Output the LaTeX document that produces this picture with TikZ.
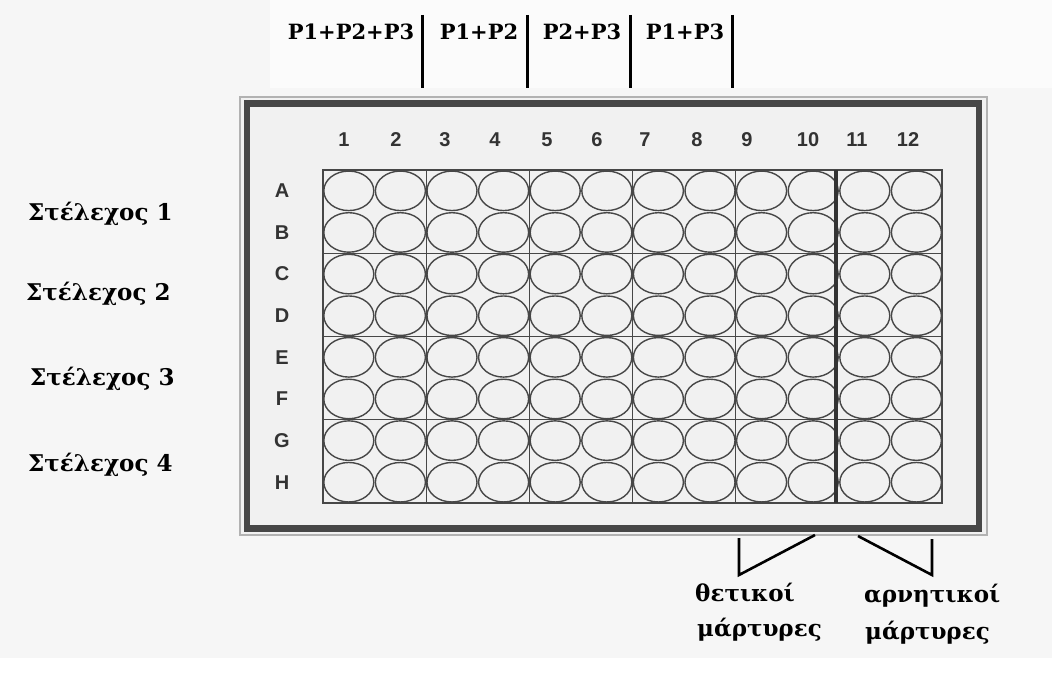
\documentclass[tikz,border=0pt]{standalone}
\usepackage{fontspec}
\setmainfont{DejaVu Serif}
\newfontfamily\platesans{Liberation Sans}
\usetikzlibrary{shapes.geometric}
\definecolor{bggray}{gray}{0.965}
\definecolor{plategray}{gray}{0.945}
\definecolor{wellline}{gray}{0.28}
\definecolor{labgray}{gray}{0.2}
\begin{document}
\begin{tikzpicture}[x=1pt,y=-1pt,
  well/.style={ellipse,draw=wellline,line width=1.4pt,fill=plategray,
    minimum width=50pt,minimum height=39.5pt,inner sep=0pt},
  gridlab/.style={font=\platesans\bfseries\fontsize{20}{20}\selectfont,text=labgray,inner sep=0pt},
  toplab/.style={font=\bfseries\fontsize{21}{21}\selectfont,inner sep=0pt},
  greeklab/.style={font=\bfseries\fontsize{23}{23}\selectfont,inner sep=0pt,anchor=west},
  botlab/.style={font=\bfseries\fontsize{23}{23}\selectfont,inner sep=0pt,anchor=west},
  sepline/.style={line width=3pt,black},
  bracket/.style={line width=2.6pt,black,line join=miter}
]
\useasboundingbox (0,0) rectangle (1052,677);
% background
\fill[bggray] (0,0) rectangle (1052,677);
\fill[white!60!bggray] (270,0) rectangle (1052,88);
\fill[white] (0,658) rectangle (1052,677);
% plate frame
\fill[plategray] (240,97) rectangle (987,535);
\draw[gray!60,line width=1.5pt] (240,97) rectangle (987,535);
\draw[black!72,line width=6.5pt] (247,103.5) rectangle (979,528.5);
% wells
\foreach \r/\L in {1/A,2/B,3/C,4/D,5/E,6/F,7/G,8/H}{
  \foreach \c in {1,...,12}{
    \node[well] (w-\L-\c) at ({323+(\c-0.5)*51.6},{170+(\r-0.5)*41.63}) {};
  }
  \node[gridlab] (row-\L) at (282,{170+(\r-0.5)*41.63}) {\L};
}
% grid lines
\draw[wellline,line width=1.2pt] (323,170) rectangle (942,503);
\foreach \k in {2,4,6,8}{
  \draw[wellline,line width=1pt] ({323+\k*51.6},170) -- ({323+\k*51.6},503);
}
\foreach \k in {2,4,6}{
  \draw[wellline,line width=1pt] (323,{170+\k*41.63}) -- (942,{170+\k*41.63});
}
\coordinate (thickT) at (836,170);
\coordinate (thickB) at (836,503);
\draw[black!80,line width=4.5pt] (thickT) -- (thickB);
% column labels
\foreach \c/\x in {1/344,2/396,3/445,4/495,5/547,6/597,7/645,8/697,9/747,10/808,11/857,12/908}{
  \node[gridlab] (col-\c) at (\x,140) {\c};
}
% top labels and separators
\node[toplab] (t1) at (351,32) {P1+P2+P3};
\node[toplab] (t2) at (479,32) {P1+P2};
\node[toplab] (t3) at (582,32) {P2+P3};
\node[toplab] (t4) at (685,32) {P1+P3};
\foreach \n/\x in {1/422,2/527,3/630,4/732}{
  \coordinate (s\n a) at (\x,15);
  \coordinate (s\n b) at (\x,88);
  \draw[sepline] (s\n a) -- (s\n b);
}
% strain labels
\node[greeklab] (st1) at (28,214) {Στέλεχος 1};
\node[greeklab] (st2) at (26,294) {Στέλεχος 2};
\node[greeklab] (st3) at (30,379) {Στέλεχος 3};
\node[greeklab] (st4) at (28,465) {Στέλεχος 4};
% controls
\coordinate (pa) at (739,538);
\coordinate (pb) at (739,575);
\coordinate (pc) at (815,535);
\draw[bracket] (pa) -- (pb) -- (pc);
\coordinate (na) at (858,536);
\coordinate (nb) at (932,575);
\coordinate (nc) at (932,539);
\draw[bracket] (na) -- (nb) -- (nc);
\node[botlab] (pos1) at (695,593) {θετικοί};
\node[botlab] (pos2) at (697,630) {μάρτυρες};
\node[botlab] (neg1) at (864,596) {αρνητικοί};
\node[botlab] (neg2) at (865,633) {μάρτυρες};
\end{tikzpicture}
\end{document}
